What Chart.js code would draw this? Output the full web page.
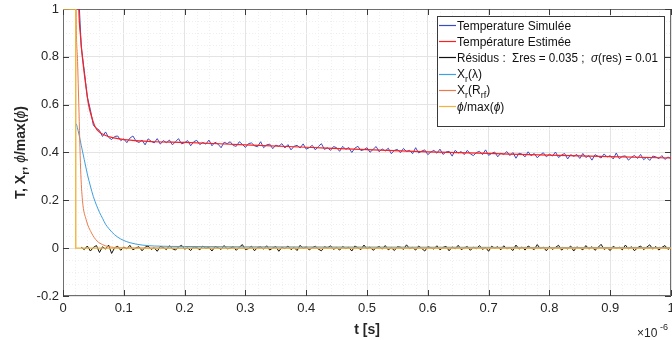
<!DOCTYPE html>
<html>
<head>
<meta charset="utf-8">
<script src="https://cdn.jsdelivr.net/npm/chart.js@4.4.1/dist/chart.umd.min.js"></script>
<style>
  html, body { margin: 0; padding: 0; background: #fff; }
</style>
</head>
<body>
<canvas id="c" width="672" height="340"></canvas>
<script>
// time axis is in units of 1e-6 s (shown with the x10^-6 multiplier)
const simStart = 0.025, simStep = 0.005;
const simV = [
  1.105, 0.842, 0.742, 0.632, 0.579, 0.513, 0.502, 0.492, 0.467, 0.486,
  0.463, 0.454, 0.467, 0.469, 0.450, 0.457, 0.441, 0.460, 0.469, 0.448,
  0.442, 0.452, 0.432, 0.457, 0.447, 0.440, 0.458, 0.435, 0.450, 0.441,
  0.452, 0.432, 0.445, 0.458, 0.436, 0.441, 0.450, 0.428, 0.445, 0.451,
  0.433, 0.442, 0.435, 0.452, 0.428, 0.443, 0.435, 0.420, 0.443, 0.437,
  0.445, 0.429, 0.426, 0.445, 0.434, 0.421, 0.437, 0.440, 0.428, 0.424,
  0.445, 0.420, 0.432, 0.435, 0.416, 0.431, 0.426, 0.437, 0.419, 0.433,
  0.411, 0.426, 0.430, 0.419, 0.436, 0.414, 0.420, 0.430, 0.411, 0.425,
  0.437, 0.413, 0.420, 0.409, 0.425, 0.420, 0.405, 0.426, 0.413, 0.421,
  0.400, 0.418, 0.426, 0.408, 0.412, 0.420, 0.401, 0.413, 0.425, 0.403,
  0.415, 0.406, 0.418, 0.395, 0.409, 0.413, 0.399, 0.417, 0.404, 0.409,
  0.395, 0.420, 0.398, 0.406, 0.411, 0.391, 0.402, 0.409, 0.397, 0.414,
  0.392, 0.402, 0.405, 0.385, 0.409, 0.398, 0.404, 0.391, 0.409, 0.394,
  0.387, 0.400, 0.405, 0.391, 0.411, 0.388, 0.396, 0.402, 0.382, 0.397,
  0.392, 0.404, 0.387, 0.400, 0.376, 0.397, 0.393, 0.382, 0.403, 0.386,
  0.396, 0.378, 0.390, 0.399, 0.382, 0.393, 0.385, 0.402, 0.379, 0.389,
  0.396, 0.373, 0.391, 0.384, 0.392, 0.375, 0.396, 0.379, 0.387, 0.368,
  0.391, 0.384, 0.377, 0.394, 0.381, 0.387, 0.373, 0.398, 0.374, 0.384,
  0.386, 0.368, 0.380, 0.388, 0.375, 0.392, 0.370, 0.380, 0.367, 0.385,
  0.382, 0.374, 0.387, 0.371, 0.381, 0.375
];

const estT = [0.022, 0.026, 0.029, 0.032, 0.036, 0.042, 0.047, 0.053, 0.06, 0.065, 0.07, 0.08, 0.09,
              0.1, 0.12, 0.15, 0.2, 0.3, 0.4, 0.5, 0.6, 0.7, 0.8, 0.9, 1.0];
const estV = [1.5, 1.0, 0.88, 0.795, 0.71, 0.60, 0.55, 0.507, 0.485, 0.477, 0.471, 0.463, 0.458,
              0.454, 0.45, 0.445, 0.442, 0.432, 0.422, 0.412, 0.403, 0.396, 0.389, 0.383, 0.377];

const resStart = 0.03, resStep = 0.005;
const resV = [
  0.004, -0.006, 0.009, -0.012, 0.003, 0.011, -0.018, 0.006, -0.004, 0.013,
  -0.022, 0.002, 0.008, -0.009, 0.005, -0.003, 0.012, -0.007, 0.001, 0.006,
  -0.011, 0.004, 0.009, -0.005, 0.002, -0.013, 0.007, 0.003, -0.006, 0.010,
  -0.002, -0.008, 0.005, 0.012, -0.004, 0.001, -0.010, 0.006, 0.003, -0.007,
  0.009, -0.001, 0.004, -0.012, 0.007, 0.002, -0.005, 0.011, -0.003, 0.000,
  0.006, -0.009, 0.004, 0.015, -0.006, -0.002, 0.008, -0.011, 0.003, 0.005,
  -0.004, 0.010, -0.008, 0.001, 0.007, -0.013, 0.004, -0.002, 0.009, -0.006,
  0.003, -0.010, 0.012, -0.001, 0.005, -0.007, 0.002, 0.008, -0.004, -0.011,
  0.006, 0.001, 0.010, -0.005, 0.003, -0.008, 0.007, -0.002, 0.004, -0.012,
  0.009, 0.002, -0.006, 0.013, -0.003, 0.005, -0.009, 0.001, 0.007, -0.004,
  0.011, -0.007, 0.002, -0.010, 0.006, 0.004, -0.005, 0.014, -0.002, 0.003,
  -0.008, 0.009, -0.001, -0.012, 0.006, 0.002, -0.004, 0.010, -0.007, 0.003,
  0.008, -0.011, 0.005, -0.003, 0.012, -0.006, 0.001, 0.007, -0.009, 0.004,
  -0.002, 0.011, -0.005, 0.003, -0.013, 0.008, 0.000, 0.006, -0.007, 0.010,
  -0.003, 0.002, -0.010, 0.013, -0.004, 0.005, -0.008, 0.009, 0.001, -0.006,
  0.015, -0.002, 0.004, -0.011, 0.007, -0.005, 0.003, 0.012, -0.008, 0.002,
  -0.003, 0.009, -0.012, 0.005, 0.001, -0.007, 0.011, -0.004, 0.006, -0.009,
  0.003, 0.016, -0.005, 0.002, -0.010, 0.008, -0.001, 0.004, -0.007, 0.013,
  -0.003, 0.006, -0.011, 0.002, 0.009, -0.006, 0.004, 0.014, -0.004, 0.007,
  -0.008, 0.003, 0.011, -0.005, 0.002
];

const lamT = [0.022, 0.025, 0.03, 0.035, 0.04, 0.045, 0.05, 0.055, 0.06, 0.065, 0.07, 0.075, 0.08,
              0.085, 0.09, 0.1, 0.11, 0.12, 0.13, 0.15, 0.2, 0.4, 0.6, 0.8, 1.0];
const lamV = [0.52, 0.49, 0.43, 0.37, 0.31, 0.26, 0.215, 0.18, 0.15, 0.125, 0.10, 0.083, 0.068,
              0.056, 0.046, 0.032, 0.023, 0.017, 0.013, 0.009, 0.007, 0.005, 0.004, 0.003, 0.003];

const rrfT = [0.021, 0.0215, 0.024, 0.026, 0.029, 0.032, 0.038, 0.047, 0.056, 0.065, 0.075, 0.09, 0.12, 1.0];
const rrfV = [1.2, 1.0, 0.78, 0.6, 0.33, 0.2, 0.12, 0.063, 0.03, 0.015, 0.006, 0.002, 0.0005, 0];

const phiT = [0, 0.021, 0.021, 1.0];
const phiV = [1, 1, 0, 0];

const labels = [
  'Temperature Simulée',
  'Température Estimée',
  'Résidus :  Σres = 0.035 ;  σ(res) = 0.01',
  'X_{r}(λ)',
  'X_{r}(R_{rf})',
  'ϕ/max(ϕ)'
];
const colors = ['#3b4cc0', '#ff1f1f', '#111111', '#3d9fe0', '#ea7a4c', '#f0b43a'];

const xTicks = [0, 0.1, 0.2, 0.3, 0.4, 0.5, 0.6, 0.7, 0.8, 0.9, 1];
const yTicks = [-0.2, 0, 0.2, 0.4, 0.6, 0.8, 1];

const FONT = "'Liberation Sans', Arial, Helvetica, sans-serif";

function pts(ts, vs) { return vs.map((v, i) => ({x: ts[i], y: v})); }
function gridPts(start, step, vs) {
  return vs.map((v, i) => ({x: +(start + i * step).toFixed(4), y: v}));
}

// simple rich text: _{sub} and ^{sup}; ϕ and σ set in italic like the tex output
function parts(str) {
  const out = [];
  const re = /([_^])\{([^}]*)\}/g;
  let last = 0, m;
  const plain = s => s.split(/([ϕσ])/).forEach(t => {
    if (t) out.push({t, k: '', it: /[ϕσ]/.test(t)});
  });
  while ((m = re.exec(str))) {
    if (m.index > last) plain(str.slice(last, m.index));
    out.push({t: m[2], k: m[1]});
    last = re.lastIndex;
  }
  if (last < str.length) plain(str.slice(last));
  return out;
}
function drawRich(ctx, str, x, y, size, weight, measureOnly) {
  let cx = x;
  for (const p of parts(str)) {
    const s = p.k ? Math.round(size * 0.78) : size;
    ctx.font = (p.it ? 'italic normal ' : weight + ' ') + s + 'px ' + FONT;
    const dy = p.k === '_' ? size * 0.32 : (p.k === '^' ? -size * 0.45 : 0);
    if (!measureOnly) ctx.fillText(p.t, cx, y + dy);
    cx += ctx.measureText(p.t).width;
  }
  return cx - x;
}

const matlabAxes = {
  id: 'matlabAxes',
  beforeDatasetsDraw(chart) {
    const {ctx, chartArea: a, scales: {x, y}} = chart;
    ctx.save();
    // minor grid
    ctx.strokeStyle = '#efefef';
    ctx.lineWidth = 1;
    ctx.setLineDash([1, 2]);
    ctx.beginPath();
    for (let i = 1; i < 50; i++) {
      if (i % 5 === 0) continue;
      const px = Math.round(x.getPixelForValue(i * 0.02)) + 0.5;
      ctx.moveTo(px, a.top); ctx.lineTo(px, a.bottom);
    }
    for (let i = 1; i < 24; i++) {
      if (i % 4 === 0) continue;
      const py = Math.round(y.getPixelForValue(-0.2 + i * 0.05)) + 0.5;
      ctx.moveTo(a.left, py); ctx.lineTo(a.right, py);
    }
    ctx.stroke();
    ctx.setLineDash([]);
    // box
    ctx.strokeStyle = '#6e6e6e';
    ctx.strokeRect(a.left + 0.5, a.top + 0.5, a.right - a.left - 1, a.bottom - a.top - 1);
    // inward ticks
    ctx.strokeStyle = '#3a3a3a';
    ctx.beginPath();
    xTicks.forEach(v => {
      const px = Math.round(x.getPixelForValue(v)) + 0.5;
      ctx.moveTo(px, a.bottom); ctx.lineTo(px, a.bottom - 6);
      ctx.moveTo(px, a.top); ctx.lineTo(px, a.top + 6);
    });
    yTicks.forEach(v => {
      const py = Math.round(y.getPixelForValue(v)) + 0.5;
      ctx.moveTo(a.left, py); ctx.lineTo(a.left + 6, py);
      ctx.moveTo(a.right, py); ctx.lineTo(a.right - 6, py);
    });
    ctx.stroke();
    ctx.restore();
  },
  afterDraw(chart) {
    const {ctx, chartArea: a} = chart;
    ctx.save();
    ctx.fillStyle = '#262626';
    ctx.textBaseline = 'alphabetic';
    // y title
    const yTitle = 'T, X_{r}, ϕ/max(ϕ)';
    ctx.save();
    ctx.translate(25, (a.top + a.bottom) / 2);
    ctx.rotate(-Math.PI / 2);
    const w = drawRich(ctx, yTitle, 0, 0, 14, 'bold', true);
    drawRich(ctx, yTitle, -w / 2, 0, 14, 'bold', false);
    ctx.restore();
    // x title
    ctx.font = 'bold 14px ' + FONT;
    ctx.textAlign = 'center';
    ctx.fillText('t [s]', (a.left + a.right) / 2, 334);
    // exponent
    ctx.textAlign = 'left';
    ctx.font = '12px ' + FONT;
    ctx.fillText('×10', 637, 337);
    ctx.font = '9px ' + FONT;
    ctx.fillText('-6', 660, 330);

    // legend
    const bx = 437, by = 16, bw = 227, bh = 110;
    ctx.fillStyle = '#ffffff';
    ctx.fillRect(bx, by, bw, bh);
    ctx.strokeStyle = '#3a3a3a';
    ctx.lineWidth = 1;
    ctx.strokeRect(bx + 0.5, by + 0.5, bw, bh);
    chart.data.datasets.forEach((ds, i) => {
      const cy = 25 + i * 16.2;
      ctx.strokeStyle = ds.borderColor;
      ctx.lineWidth = 1.2;
      ctx.beginPath();
      ctx.moveTo(439, Math.round(cy) + 0.5);
      ctx.lineTo(456, Math.round(cy) + 0.5);
      ctx.stroke();
      ctx.fillStyle = '#111';
      const tw = drawRich(ctx, ds.label, 0, 0, 12, 'normal', true);
      const maxW = 201;
      ctx.save();
      ctx.translate(457, cy + 4.5);
      if (tw > maxW) ctx.scale(maxW / tw, 1);
      drawRich(ctx, ds.label, 0, 0, 12, 'normal', false);
      ctx.restore();
    });
    ctx.restore();
  }
};

Chart.defaults.font.family = FONT;

const ds = (label, data, color, order, extra) => Object.assign({
  label, data, borderColor: color, backgroundColor: color,
  borderWidth: 1, pointRadius: 0, tension: 0, order, fill: false
}, extra || {});

new Chart(document.getElementById('c'), {
  type: 'line',
  data: {
    datasets: [
      ds(labels[0], gridPts(simStart, simStep, simV), colors[0], 6),
      ds(labels[1], pts(estT, estV), colors[1], 5, {cubicInterpolationMode: 'monotone', borderWidth: 1.2}),
      ds(labels[2], gridPts(resStart, resStep, resV), colors[2], 4),
      ds(labels[3], pts(lamT, lamV), colors[3], 3, {cubicInterpolationMode: 'monotone'}),
      ds(labels[4], pts(rrfT, rrfV), colors[4], 2, {cubicInterpolationMode: 'monotone'}),
      ds(labels[5], pts(phiT, phiV), colors[5], 1, {borderWidth: 1.4})
    ]
  },
  options: {
    responsive: false,
    animation: false,
    layout: {padding: {top: 9, right: 1, left: 0, bottom: 0}},
    plugins: {legend: {display: false}, tooltip: {enabled: false}},
    scales: {
      x: {
        type: 'linear', min: 0, max: 1,
        afterFit: s => { s.height = 44; s.paddingLeft = 0; s.paddingRight = 0; },
        afterBuildTicks: s => { s.ticks = xTicks.map(v => ({value: v})); },
        grid: {color: '#e4e4e4', drawTicks: false},
        border: {display: false},
        ticks: {
          padding: 5, color: '#262626', font: {size: 13}, maxRotation: 0,
          callback: v => String(+v.toFixed(1))
        }
      },
      y: {
        min: -0.2, max: 1,
        afterFit: s => { s.width = 63; s.paddingTop = 0; s.paddingBottom = 0; },
        afterBuildTicks: s => { s.ticks = yTicks.map(v => ({value: v})); },
        grid: {color: '#e4e4e4', drawTicks: false},
        border: {display: false},
        ticks: {
          padding: 4, color: '#262626', font: {size: 13},
          callback: v => String(+v.toFixed(1))
        }
      }
    }
  },
  plugins: [matlabAxes]
});
</script>
</body>
</html>
